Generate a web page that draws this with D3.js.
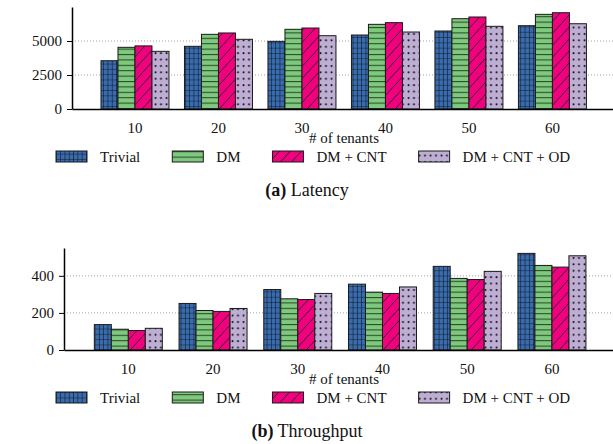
<!DOCTYPE html>
<html>
<head>
<meta charset="utf-8">
<script src="https://cdn.jsdelivr.net/npm/d3@7.9.0/dist/d3.min.js"></script>
<style>
  body { margin: 0; background: #fff; }
  svg { display: block; font-family: "Liberation Serif", "Times New Roman", serif; }
  svg text { font-family: "Liberation Serif", "Times New Roman", serif; }
</style>
</head>
<body>
<div id="chart"></div>
<script>
const tenants = ["10", "20", "30", "40", "50", "60"];
const seriesNames = ["Trivial", "DM", "DM + CNT", "DM + CNT + OD"];

// latency (ms)
const latTrivial = [3550, 4610, 4975, 5440, 5735, 6125];
const latDM      = [4535, 5490, 5860, 6225, 6640, 6960];
const latCNT     = [4640, 5590, 5955, 6350, 6765, 7080];
const latOD      = [4240, 5125, 5390, 5660, 6080, 6270];

// throughput (pods/min)
const thrTrivial = [137, 251, 326, 355, 451, 521];
const thrDM      = [112, 213, 276, 312, 386, 456];
const thrCNT     = [105, 208, 272, 305, 380, 447];
const thrOD      = [117, 224, 305, 340, 424, 508];

const latTicks = [0, 2500, 5000];
const thrTicks = [0, 200, 400];

const colors = ["#386cb0", "#7fc97f", "#f0027f", "#beaed4"];

const width = 613, height = 444;
const svg = d3.select("#chart").append("svg")
    .attr("width", width).attr("height", height);

/* hatch patterns */
const defs = svg.append("defs");
function pattern(id, w, h, color, draw) {
    const p = defs.append("pattern")
        .attr("id", id)
        .attr("patternUnits", "userSpaceOnUse")
        .attr("width", w).attr("height", h);
    p.append("rect").attr("width", w).attr("height", h).attr("fill", color);
    draw(p, w, h);
}
pattern("hatch0", 4.3, 5.3, colors[0], (p, w, h) => {
    p.append("path").attr("d", `M0,0H${w}M0,0V${h}`)
        .attr("stroke", "#111").attr("stroke-width", 1.1);
});
pattern("hatch1", 10, 5.4, colors[1], (p, w, h) => {
    p.append("path").attr("d", `M0,0.5H${w}`)
        .attr("stroke", "#2a4a2a").attr("stroke-width", 1.1);
});
pattern("hatch2", 11, 12, colors[2], (p, w, h) => {
    p.append("path").attr("d", `M0,${h}L${w},0M${-w},${h}L0,0M${w},${h}L${2 * w},0`)
        .attr("stroke", "#222").attr("stroke-width", 0.9);
});
pattern("hatch3", 5.5, 6.4, colors[3], (p, w, h) => {
    p.append("circle").attr("cx", 1.5).attr("cy", 2).attr("r", 1).attr("fill", "#111");
});

function panel(opts) {
    const { top, bottom, left, right, yMax, ticks, series, yLabel, caption, align } = opts;

    const x = d3.scaleBand().domain(tenants).range([left, right])
        .paddingInner(0).paddingOuter(0.24).align(align);
    const y = d3.scaleLinear().domain([0, yMax]).range([bottom, top]);
    const xs = d3.scaleBand().domain(seriesNames).range([0, 68]);

    // dotted grid
    svg.append("g").selectAll("line")
        .data(ticks.filter(t => t > 0))
        .join("line")
        .attr("x1", left).attr("x2", right)
        .attr("y1", d => y(d)).attr("y2", d => y(d))
        .attr("stroke", "#888").attr("stroke-width", 0.8)
        .attr("stroke-dasharray", "1,2");

    // bars
    series.forEach((vals, si) => {
        svg.append("g").selectAll("rect")
            .data(vals)
            .join("rect")
            .attr("x", (d, i) => x(tenants[i]) + x.bandwidth() / 2 - 34 + xs(seriesNames[si]))
            .attr("y", d => y(d))
            .attr("width", xs.bandwidth())
            .attr("height", d => bottom - y(d))
            .attr("fill", `url(#hatch${si})`)
            .attr("stroke", "#1a1a1a").attr("stroke-width", 1);
    });

    // axes
    const yAxis = svg.append("g")
        .attr("transform", `translate(${left},0)`)
        .call(d3.axisLeft(y).tickValues(ticks).tickFormat(d3.format("d"))
            .tickSize(5).tickPadding(5).tickSizeOuter(0));
    yAxis.attr("font-family", null).attr("font-size", 15);
    yAxis.select(".domain").attr("stroke-width", 1.5);
    yAxis.selectAll("text").attr("fill", "#111");

    const xAxis = svg.append("g")
        .attr("transform", `translate(0,${bottom})`)
        .call(d3.axisBottom(x).tickSize(0).tickPadding(13).tickSizeOuter(0));
    xAxis.attr("font-family", null).attr("font-size", 15);
    xAxis.select(".domain").attr("stroke-width", 1.5);
    xAxis.selectAll("text").attr("fill", "#111");

    svg.append("text")
        .attr("x", 344).attr("y", bottom + 34)
        .attr("text-anchor", "middle").attr("font-size", 15).attr("fill", "#111")
        .text("# of tenants");

    // y label, clipped at the top like the original
    const clipId = "clip" + top;
    defs.append("clipPath").attr("id", clipId)
        .append("rect").attr("x", 0).attr("y", top - 15).attr("width", 40).attr("height", bottom - top + 60);
    svg.append("text")
        .attr("clip-path", `url(#${clipId})`)
        .attr("transform", "rotate(-90)")
        .attr("x", -(top + bottom) / 2).attr("y", 21)
        .attr("text-anchor", "middle").attr("font-size", 15).attr("fill", "#111")
        .text(yLabel);

    // legend
    let lx = 56;
    const ly = bottom + 42;
    seriesNames.forEach((name, si) => {
        svg.append("rect")
            .attr("x", lx).attr("y", ly).attr("width", 31).attr("height", 11)
            .attr("fill", `url(#hatch${si})`).attr("stroke", "#1a1a1a").attr("stroke-width", 1);
        const t = svg.append("text")
            .attr("x", lx + 44).attr("y", ly + 11)
            .attr("font-size", 15).attr("fill", "#111")
            .text(name);
        lx = lx + 44 + t.node().getComputedTextLength() + 32;
    });

    // caption
    const cap = svg.append("text")
        .attr("x", 307).attr("y", bottom + 87)
        .attr("text-anchor", "middle").attr("font-size", 18).attr("fill", "#111");
    cap.append("tspan").attr("font-weight", "bold").text(caption[0]);
    cap.append("tspan").text(" " + caption[1]);
}

panel({
    top: 7, bottom: 109, left: 72, right: 613, yMax: 7500, align: 0.53,
    ticks: latTicks, series: [latTrivial, latDM, latCNT, latOD],
    yLabel: "Time (ms)", caption: ["(a)", "Latency"]
});
panel({
    top: 248, bottom: 350, left: 64, right: 613, yMax: 550, align: 0.54,
    ticks: thrTicks, series: [thrTrivial, thrDM, thrCNT, thrOD],
    yLabel: "Throughput (Pods/min)", caption: ["(b)", "Throughput"]
});
</script>
</body>
</html>
